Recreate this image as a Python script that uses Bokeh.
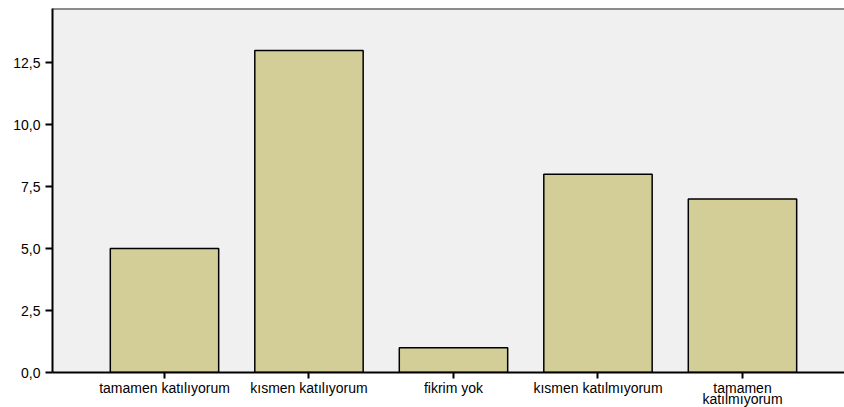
from bokeh.plotting import figure
from bokeh.layouts import column
from bokeh.models import Range1d, FixedTicker, CustomJSTickFormatter, Span, ColumnDataSource
from bokeh.core.properties import value
from bokeh.embed import file_html
from bokeh.resources import INLINE

categories = ["tamamen katılıyorum", "kısmen katılıyorum", "fikrim yok",
              "kısmen katılmıyorum", "tamamen\nkatılmıyorum"]
counts = [5, 13, 1, 8, 7]
y_ticks = [0, 2.5, 5, 7.5, 10, 12.5]

positions = list(range(1, len(categories) + 1))
src = ColumnDataSource(dict(x=positions, top=counts))

# category labels, split into their first and (optional) second line
line1 = [c.split("\n")[0] for c in categories]
line2 = [c.split("\n")[1] if "\n" in c else "" for c in categories]

FONT = "Liberation Sans"
Y_END = 14.69
xr = Range1d(0.225, 5.706)

p = figure(width=844, height=381, output_backend="svg", toolbar_location=None,
           x_range=xr, y_range=Range1d(0, Y_END),
           min_border_left=52, min_border_right=0, min_border_top=8, min_border_bottom=9)

p.background_fill_color = "#F0F0F0"
p.border_fill_color = "white"
p.outline_line_color = None
p.xgrid.visible = False
p.ygrid.visible = False

p.vbar(x="x", top="top", width=0.75, bottom=0, source=src,
       fill_color="#D3CE97", line_color="black", line_width=1.5)

p.add_layout(Span(location=Y_END, dimension="width", line_color="#222222", line_width=2))

p.xaxis.ticker = FixedTicker(ticks=positions)
p.xaxis.major_label_overrides = {i: "" for i in positions}
p.xaxis.major_label_text_font_size = "0px"
p.xaxis.axis_line_color = "black"
p.xaxis.axis_line_width = 2
p.xaxis.major_tick_in = 0
p.xaxis.major_tick_out = 6
p.xaxis.major_tick_line_width = 2
p.xaxis.minor_tick_line_color = None
p.xaxis.major_label_standoff = 0

p.yaxis.ticker = FixedTicker(ticks=y_ticks)
p.yaxis.formatter = CustomJSTickFormatter(code="return tick.toFixed(1).replace('.', ',');")
p.yaxis.axis_line_color = "black"
p.yaxis.axis_line_width = 2
p.yaxis.major_tick_in = 0
p.yaxis.major_tick_out = 7
p.yaxis.major_tick_line_width = 2
p.yaxis.minor_tick_line_color = None
p.yaxis.major_label_standoff = 5
p.yaxis.major_label_text_font = FONT
p.yaxis.major_label_text_font_size = "14px"
p.yaxis.major_label_text_color = "black"

# category label strip below the chart, sharing the x range (y in pixels from strip bottom)
STRIP_H = 26
s = figure(width=844, height=STRIP_H, output_backend="svg", toolbar_location=None,
           x_range=xr, y_range=Range1d(0, STRIP_H),
           min_border_left=52, min_border_right=0, min_border_top=0, min_border_bottom=0)
s.axis.visible = False
s.grid.visible = False
s.outline_line_color = None
s.background_fill_color = "white"
s.border_fill_color = "white"

for lines, ypix in ((line1, 20), (line2, 9)):
    s.text(x=positions, y=[ypix] * len(positions), text=lines,
           text_align="center", text_baseline="alphabetic",
           text_font=value(FONT), text_font_size="14px", text_color="black")

layout = column(p, s, spacing=0)
open("out.html", "w").write(file_html(layout, INLINE))
